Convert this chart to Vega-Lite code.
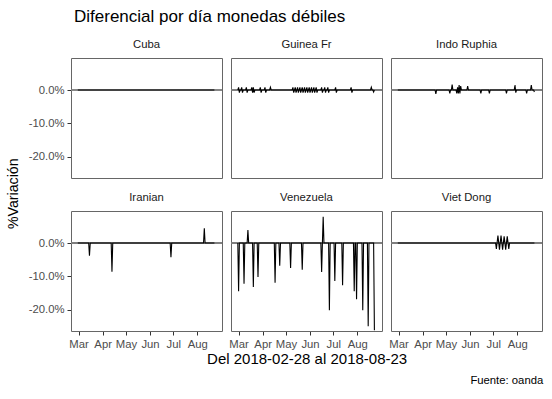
{
  "$schema": "https://vega.github.io/schema/vega-lite/v6.json",
  "padding": {"left": 7, "top": 8, "right": 4, "bottom": 4},
  "background": "white",
  "title": {"text": "Diferencial por día monedas débiles", "anchor": "start", "fontSize": 17, "font": "Liberation Sans", "fontWeight": "normal", "color": "black", "dx": 67, "offset": 12},
  "config": {
    "font": "Liberation Sans",
    "view": {"stroke": "#666666", "strokeWidth": 1},
    "axis": {"domain": false, "grid": false, "tickColor": "#333333", "tickSize": 4, "labelColor": "#4d4d4d", "labelFontSize": 11.3, "labelFont": "Liberation Sans", "titleFont": "Liberation Sans", "titleFontWeight": "normal", "titleFontSize": 14, "titleColor": "black", "labelPadding": 3},
    "header": {"labelFont": "Liberation Sans", "labelFontSize": 11.3, "labelColor": "#1a1a1a"}
  },
  "vconcat": [
    {
      "title": {"text": "Fuente: oanda", "orient": "bottom", "anchor": "end", "fontSize": 11.3, "font": "Liberation Sans", "fontWeight": "normal", "color": "black", "offset": 8},
      "vconcat": [
        {
          "title": {"text": "Del 2018-02-28 al 2018-08-23", "orient": "bottom", "anchor": "middle", "dx": 32, "fontSize": 15, "font": "Liberation Sans", "fontWeight": "normal", "color": "black", "offset": 3},
          "vconcat": [
            {
              "title": {"text": "%Variación", "orient": "left", "anchor": "middle", "fontSize": 14.2, "font": "Liberation Sans", "fontWeight": "normal", "color": "black", "offset": 7},
              "data": {"values": [
        {"s":"Cuba","d":"2018-02-28","v":0},{"s":"Cuba","d":"2018-08-23","v":0},
        {"s":"Guinea Fr","d":"2018-02-28","v":0},{"s":"Guinea Fr","d":"2018-03-01","v":0.8},{"s":"Guinea Fr","d":"2018-03-02","v":-0.8},{"s":"Guinea Fr","d":"2018-03-03","v":0},
        {"s":"Guinea Fr","d":"2018-03-04","v":0},{"s":"Guinea Fr","d":"2018-03-05","v":0.8},{"s":"Guinea Fr","d":"2018-03-06","v":-0.8},{"s":"Guinea Fr","d":"2018-03-07","v":0},
        {"s":"Guinea Fr","d":"2018-03-10","v":0},{"s":"Guinea Fr","d":"2018-03-11","v":0.8},{"s":"Guinea Fr","d":"2018-03-12","v":-0.8},{"s":"Guinea Fr","d":"2018-03-13","v":0},
        {"s":"Guinea Fr","d":"2018-03-17","v":0},{"s":"Guinea Fr","d":"2018-03-18","v":0.8},{"s":"Guinea Fr","d":"2018-03-19","v":-0.8},{"s":"Guinea Fr","d":"2018-03-20","v":0.8},{"s":"Guinea Fr","d":"2018-03-21","v":-0.8},{"s":"Guinea Fr","d":"2018-03-22","v":0},
        {"s":"Guinea Fr","d":"2018-03-28","v":0},{"s":"Guinea Fr","d":"2018-03-29","v":0.8},{"s":"Guinea Fr","d":"2018-03-30","v":-0.8},{"s":"Guinea Fr","d":"2018-03-31","v":0},
        {"s":"Guinea Fr","d":"2018-04-03","v":0},{"s":"Guinea Fr","d":"2018-04-04","v":0.8},{"s":"Guinea Fr","d":"2018-04-05","v":-0.8},{"s":"Guinea Fr","d":"2018-04-06","v":0},
        {"s":"Guinea Fr","d":"2018-04-10","v":0},{"s":"Guinea Fr","d":"2018-04-11","v":0.8},{"s":"Guinea Fr","d":"2018-04-12","v":0},
        {"s":"Guinea Fr","d":"2018-05-09","v":0},{"s":"Guinea Fr","d":"2018-05-10","v":0.8},{"s":"Guinea Fr","d":"2018-05-11","v":-0.8},{"s":"Guinea Fr","d":"2018-05-12","v":0},
        {"s":"Guinea Fr","d":"2018-05-13","v":0.8},{"s":"Guinea Fr","d":"2018-05-14","v":-0.8},{"s":"Guinea Fr","d":"2018-05-15","v":0},
        {"s":"Guinea Fr","d":"2018-05-16","v":0.8},{"s":"Guinea Fr","d":"2018-05-17","v":-0.8},{"s":"Guinea Fr","d":"2018-05-18","v":0},
        {"s":"Guinea Fr","d":"2018-05-19","v":0.8},{"s":"Guinea Fr","d":"2018-05-20","v":-0.8},{"s":"Guinea Fr","d":"2018-05-21","v":0},
        {"s":"Guinea Fr","d":"2018-05-22","v":0.8},{"s":"Guinea Fr","d":"2018-05-23","v":-0.8},{"s":"Guinea Fr","d":"2018-05-24","v":0},
        {"s":"Guinea Fr","d":"2018-05-25","v":0.8},{"s":"Guinea Fr","d":"2018-05-26","v":-0.8},{"s":"Guinea Fr","d":"2018-05-27","v":0},
        {"s":"Guinea Fr","d":"2018-05-28","v":0.8},{"s":"Guinea Fr","d":"2018-05-29","v":-0.8},{"s":"Guinea Fr","d":"2018-05-30","v":0},
        {"s":"Guinea Fr","d":"2018-05-31","v":0.8},{"s":"Guinea Fr","d":"2018-06-01","v":-0.8},{"s":"Guinea Fr","d":"2018-06-02","v":0},
        {"s":"Guinea Fr","d":"2018-06-03","v":0.8},{"s":"Guinea Fr","d":"2018-06-04","v":-0.8},{"s":"Guinea Fr","d":"2018-06-05","v":0},
        {"s":"Guinea Fr","d":"2018-06-06","v":0.8},{"s":"Guinea Fr","d":"2018-06-07","v":-0.8},{"s":"Guinea Fr","d":"2018-06-08","v":0},
        {"s":"Guinea Fr","d":"2018-06-09","v":0.8},{"s":"Guinea Fr","d":"2018-06-10","v":-0.8},{"s":"Guinea Fr","d":"2018-06-11","v":0},
        {"s":"Guinea Fr","d":"2018-06-15","v":0},{"s":"Guinea Fr","d":"2018-06-16","v":0.8},{"s":"Guinea Fr","d":"2018-06-17","v":-0.8},{"s":"Guinea Fr","d":"2018-06-18","v":0},
        {"s":"Guinea Fr","d":"2018-06-19","v":0},{"s":"Guinea Fr","d":"2018-06-20","v":0.8},{"s":"Guinea Fr","d":"2018-06-21","v":-0.8},{"s":"Guinea Fr","d":"2018-06-22","v":0},
        {"s":"Guinea Fr","d":"2018-06-23","v":0},{"s":"Guinea Fr","d":"2018-06-24","v":0.8},{"s":"Guinea Fr","d":"2018-06-25","v":-0.8},{"s":"Guinea Fr","d":"2018-06-26","v":0},
        {"s":"Guinea Fr","d":"2018-07-03","v":0},{"s":"Guinea Fr","d":"2018-07-04","v":0.8},{"s":"Guinea Fr","d":"2018-07-05","v":-0.8},{"s":"Guinea Fr","d":"2018-07-06","v":0},
        {"s":"Guinea Fr","d":"2018-07-23","v":0},{"s":"Guinea Fr","d":"2018-07-24","v":0.8},{"s":"Guinea Fr","d":"2018-07-25","v":-0.8},{"s":"Guinea Fr","d":"2018-07-26","v":0},
        {"s":"Guinea Fr","d":"2018-08-18","v":0},{"s":"Guinea Fr","d":"2018-08-19","v":0.8},{"s":"Guinea Fr","d":"2018-08-20","v":0},{"s":"Guinea Fr","d":"2018-08-21","v":0},{"s":"Guinea Fr","d":"2018-08-22","v":-0.6},{"s":"Guinea Fr","d":"2018-08-23","v":0},
        {"s":"Indo Ruphia","d":"2018-02-28","v":0},
        {"s":"Indo Ruphia","d":"2018-04-17","v":0},{"s":"Indo Ruphia","d":"2018-04-18","v":-1.2},{"s":"Indo Ruphia","d":"2018-04-19","v":0},
        {"s":"Indo Ruphia","d":"2018-05-05","v":0},{"s":"Indo Ruphia","d":"2018-05-06","v":-1.0},{"s":"Indo Ruphia","d":"2018-05-07","v":0},
        {"s":"Indo Ruphia","d":"2018-05-08","v":0},{"s":"Indo Ruphia","d":"2018-05-09","v":1.6},{"s":"Indo Ruphia","d":"2018-05-10","v":0},
        {"s":"Indo Ruphia","d":"2018-05-14","v":0},{"s":"Indo Ruphia","d":"2018-05-15","v":-1.0},{"s":"Indo Ruphia","d":"2018-05-16","v":0.8},{"s":"Indo Ruphia","d":"2018-05-17","v":-1.0},{"s":"Indo Ruphia","d":"2018-05-18","v":1.5},{"s":"Indo Ruphia","d":"2018-05-19","v":-1.0},{"s":"Indo Ruphia","d":"2018-05-20","v":1.2},{"s":"Indo Ruphia","d":"2018-05-21","v":0},
        {"s":"Indo Ruphia","d":"2018-05-28","v":0},{"s":"Indo Ruphia","d":"2018-05-29","v":1.2},{"s":"Indo Ruphia","d":"2018-05-30","v":0},
        {"s":"Indo Ruphia","d":"2018-06-14","v":0},{"s":"Indo Ruphia","d":"2018-06-15","v":-1.0},{"s":"Indo Ruphia","d":"2018-06-16","v":0},
        {"s":"Indo Ruphia","d":"2018-06-25","v":0},{"s":"Indo Ruphia","d":"2018-06-26","v":-1.0},{"s":"Indo Ruphia","d":"2018-06-27","v":0},
        {"s":"Indo Ruphia","d":"2018-07-17","v":0},{"s":"Indo Ruphia","d":"2018-07-18","v":-1.0},{"s":"Indo Ruphia","d":"2018-07-19","v":0},
        {"s":"Indo Ruphia","d":"2018-07-28","v":0},{"s":"Indo Ruphia","d":"2018-07-29","v":1.5},{"s":"Indo Ruphia","d":"2018-07-30","v":-0.8},{"s":"Indo Ruphia","d":"2018-07-31","v":0},
        {"s":"Indo Ruphia","d":"2018-08-12","v":0},{"s":"Indo Ruphia","d":"2018-08-13","v":-1.0},{"s":"Indo Ruphia","d":"2018-08-14","v":0},
        {"s":"Indo Ruphia","d":"2018-08-18","v":0},{"s":"Indo Ruphia","d":"2018-08-19","v":1.5},{"s":"Indo Ruphia","d":"2018-08-20","v":0},{"s":"Indo Ruphia","d":"2018-08-22","v":0},{"s":"Indo Ruphia","d":"2018-08-23","v":-0.6},
        {"s":"Iranian","d":"2018-02-28","v":0},
        {"s":"Iranian","d":"2018-03-14","v":0},{"s":"Iranian","d":"2018-03-15","v":-3.8},{"s":"Iranian","d":"2018-03-16","v":0},
        {"s":"Iranian","d":"2018-04-12","v":0},{"s":"Iranian","d":"2018-04-13","v":-8.6},{"s":"Iranian","d":"2018-04-14","v":0},
        {"s":"Iranian","d":"2018-06-27","v":0},{"s":"Iranian","d":"2018-06-28","v":-4.3},{"s":"Iranian","d":"2018-06-29","v":0},
        {"s":"Iranian","d":"2018-08-09","v":0},{"s":"Iranian","d":"2018-08-10","v":4.4},{"s":"Iranian","d":"2018-08-11","v":0},
        {"s":"Iranian","d":"2018-08-23","v":0},
        {"s":"Venezuela","d":"2018-02-28","v":0},{"s":"Venezuela","d":"2018-03-01","v":-14.5},{"s":"Venezuela","d":"2018-03-02","v":0},
        {"s":"Venezuela","d":"2018-03-07","v":0},{"s":"Venezuela","d":"2018-03-08","v":-12.2},{"s":"Venezuela","d":"2018-03-09","v":0},
        {"s":"Venezuela","d":"2018-03-12","v":0},{"s":"Venezuela","d":"2018-03-13","v":3.9},{"s":"Venezuela","d":"2018-03-14","v":0},
        {"s":"Venezuela","d":"2018-03-19","v":0},{"s":"Venezuela","d":"2018-03-20","v":-13.2},{"s":"Venezuela","d":"2018-03-21","v":0},
        {"s":"Venezuela","d":"2018-03-25","v":0},{"s":"Venezuela","d":"2018-03-26","v":-10.2},{"s":"Venezuela","d":"2018-03-27","v":0},
        {"s":"Venezuela","d":"2018-04-16","v":0},{"s":"Venezuela","d":"2018-04-17","v":-11.9},{"s":"Venezuela","d":"2018-04-18","v":0},
        {"s":"Venezuela","d":"2018-04-22","v":0},{"s":"Venezuela","d":"2018-04-23","v":-6.8},{"s":"Venezuela","d":"2018-04-24","v":0},
        {"s":"Venezuela","d":"2018-05-06","v":0},{"s":"Venezuela","d":"2018-05-07","v":-7.5},{"s":"Venezuela","d":"2018-05-08","v":0},
        {"s":"Venezuela","d":"2018-05-21","v":0},{"s":"Venezuela","d":"2018-05-22","v":-8.0},{"s":"Venezuela","d":"2018-05-23","v":0},
        {"s":"Venezuela","d":"2018-06-15","v":0},{"s":"Venezuela","d":"2018-06-16","v":-8.7},{"s":"Venezuela","d":"2018-06-17","v":0},{"s":"Venezuela","d":"2018-06-18","v":7.9},{"s":"Venezuela","d":"2018-06-19","v":0},
        {"s":"Venezuela","d":"2018-06-25","v":0},{"s":"Venezuela","d":"2018-06-26","v":-20.2},{"s":"Venezuela","d":"2018-06-27","v":0},
        {"s":"Venezuela","d":"2018-07-02","v":0},{"s":"Venezuela","d":"2018-07-03","v":-11.4},{"s":"Venezuela","d":"2018-07-04","v":0},
        {"s":"Venezuela","d":"2018-07-12","v":0},{"s":"Venezuela","d":"2018-07-13","v":-12.7},{"s":"Venezuela","d":"2018-07-14","v":0},
        {"s":"Venezuela","d":"2018-07-27","v":0},{"s":"Venezuela","d":"2018-07-28","v":-14.5},{"s":"Venezuela","d":"2018-07-29","v":0},
        {"s":"Venezuela","d":"2018-07-30","v":0},{"s":"Venezuela","d":"2018-07-31","v":-16.9},{"s":"Venezuela","d":"2018-08-01","v":0},
        {"s":"Venezuela","d":"2018-08-07","v":0},{"s":"Venezuela","d":"2018-08-08","v":-20.2},{"s":"Venezuela","d":"2018-08-09","v":0},
        {"s":"Venezuela","d":"2018-08-14","v":0},{"s":"Venezuela","d":"2018-08-15","v":-25.0},{"s":"Venezuela","d":"2018-08-16","v":0},
        {"s":"Venezuela","d":"2018-08-22","v":0},{"s":"Venezuela","d":"2018-08-23","v":-26.2},
        {"s":"Viet Dong","d":"2018-02-28","v":0},{"s":"Viet Dong","d":"2018-07-04","v":0},
        {"s":"Viet Dong","d":"2018-07-05","v":-1.8},{"s":"Viet Dong","d":"2018-07-07","v":2.2},{"s":"Viet Dong","d":"2018-07-09","v":-2.0},{"s":"Viet Dong","d":"2018-07-11","v":2.2},
        {"s":"Viet Dong","d":"2018-07-13","v":-2.0},{"s":"Viet Dong","d":"2018-07-15","v":2.0},{"s":"Viet Dong","d":"2018-07-17","v":-2.0},{"s":"Viet Dong","d":"2018-07-19","v":2.0},
        {"s":"Viet Dong","d":"2018-07-21","v":-1.8},{"s":"Viet Dong","d":"2018-07-22","v":0},{"s":"Viet Dong","d":"2018-08-23","v":0}
              ]},
              "columns": 3,
              "bounds": "flush",
              "spacing": {"row": 33, "column": 9},
              "facet": {"field": "s", "type": "nominal", "header": {"title": null, "labelPadding": 8}},
              "spec": {
                "width": 151,
                "height": 120,
                "layer": [
                  {
                    "mark": {"type": "rule", "color": "#7f7f7f", "strokeWidth": 1.5},
                    "encoding": {"y": {"datum": 0, "type": "quantitative"}}
                  },
                  {
                    "mark": {"type": "line", "color": "black", "strokeWidth": 1.1, "clip": true},
                    "encoding": {
                      "x": {"field": "d", "type": "temporal",
                        "scale": {"type": "utc", "domain": [{"year": 2018, "month": 2, "date": 19, "hours": 5, "utc": true}, {"year": 2018, "month": 9, "date": 1, "hours": 19, "utc": true}]},
                        "axis": {"title": null, "format": "%b", "labelOverlap": false, "labelFlush": false, "labelBound": false,
                          "values": [{"year": 2018, "month": 3, "date": 1, "utc": true}, {"year": 2018, "month": 4, "date": 1, "utc": true}, {"year": 2018, "month": 5, "date": 1, "utc": true}, {"year": 2018, "month": 6, "date": 1, "utc": true}, {"year": 2018, "month": 7, "date": 1, "utc": true}, {"year": 2018, "month": 8, "date": 1, "utc": true}]}},
                      "y": {"field": "v", "type": "quantitative",
                        "scale": {"domain": [-26.4, 9.6], "nice": false, "zero": false},
                        "axis": {"title": null, "values": [-20, -10, 0], "labelExpr": "(datum.value < 0 ? '-' : '') + format(abs(datum.value), '.1f') + '%'"}}
                    }
                  }
                ]
              }
            }
          ]
        }
      ]
    }
  ]
}
